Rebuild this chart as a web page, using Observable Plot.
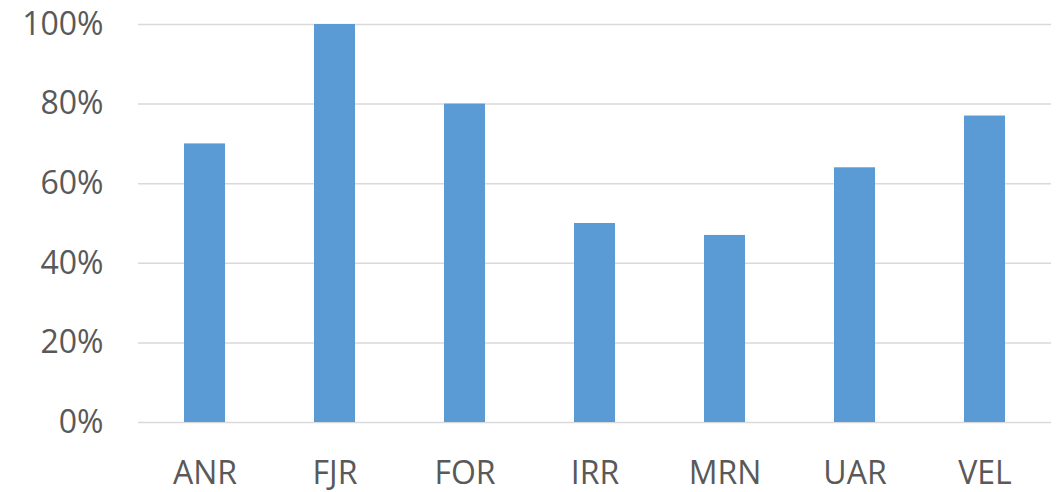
<!DOCTYPE html>
<html>
<head>
<meta charset="utf-8">
<script src="https://cdn.jsdelivr.net/npm/d3@7"></script>
<script src="https://cdn.jsdelivr.net/npm/@observablehq/plot@0.6"></script>
<style>
  html, body { margin: 0; padding: 0; background: #fff; }
  #chart svg { display: block; }
</style>
</head>
<body>
<div id="chart"></div>
<script>
const categories = ["ANR", "FJR", "FOR", "IRR", "MRN", "UAR", "VEL"];
const values = [0.70, 1.00, 0.80, 0.50, 0.47, 0.64, 0.77];
const yTicks = [0, 0.2, 0.4, 0.6, 0.8, 1.0];

const data = categories.map((c, i) => ({category: c, value: values[i]}));

const chart = Plot.plot({
  width: 1061,
  height: 492,
  marginLeft: 138,
  marginRight: 10,
  marginTop: 24,
  marginBottom: 70,
  style: {fontFamily: "'Open Sans', sans-serif", fontSize: "32px", color: "#595959", background: "#fff"},
  x: {domain: categories, paddingInner: 0.685, paddingOuter: 0.3425, label: null},
  y: {domain: [0, 1], label: null},
  marks: [
    Plot.gridY(yTicks, {stroke: "#d9d9d9", strokeOpacity: 1, strokeWidth: 1.5}),
    Plot.barY(data, {x: "category", y: "value", fill: "#5b9bd5"}),
    Plot.axisY(yTicks, {tickSize: 0, tickPadding: 35, tickFormat: d => Math.round(d * 100) + "%", fill: "#595959", label: null}),
    Plot.axisX({tickSize: 0, tickPadding: 39, fill: "#595959", label: null})
  ]
});
document.getElementById("chart").appendChild(chart);
</script>
</body>
</html>
